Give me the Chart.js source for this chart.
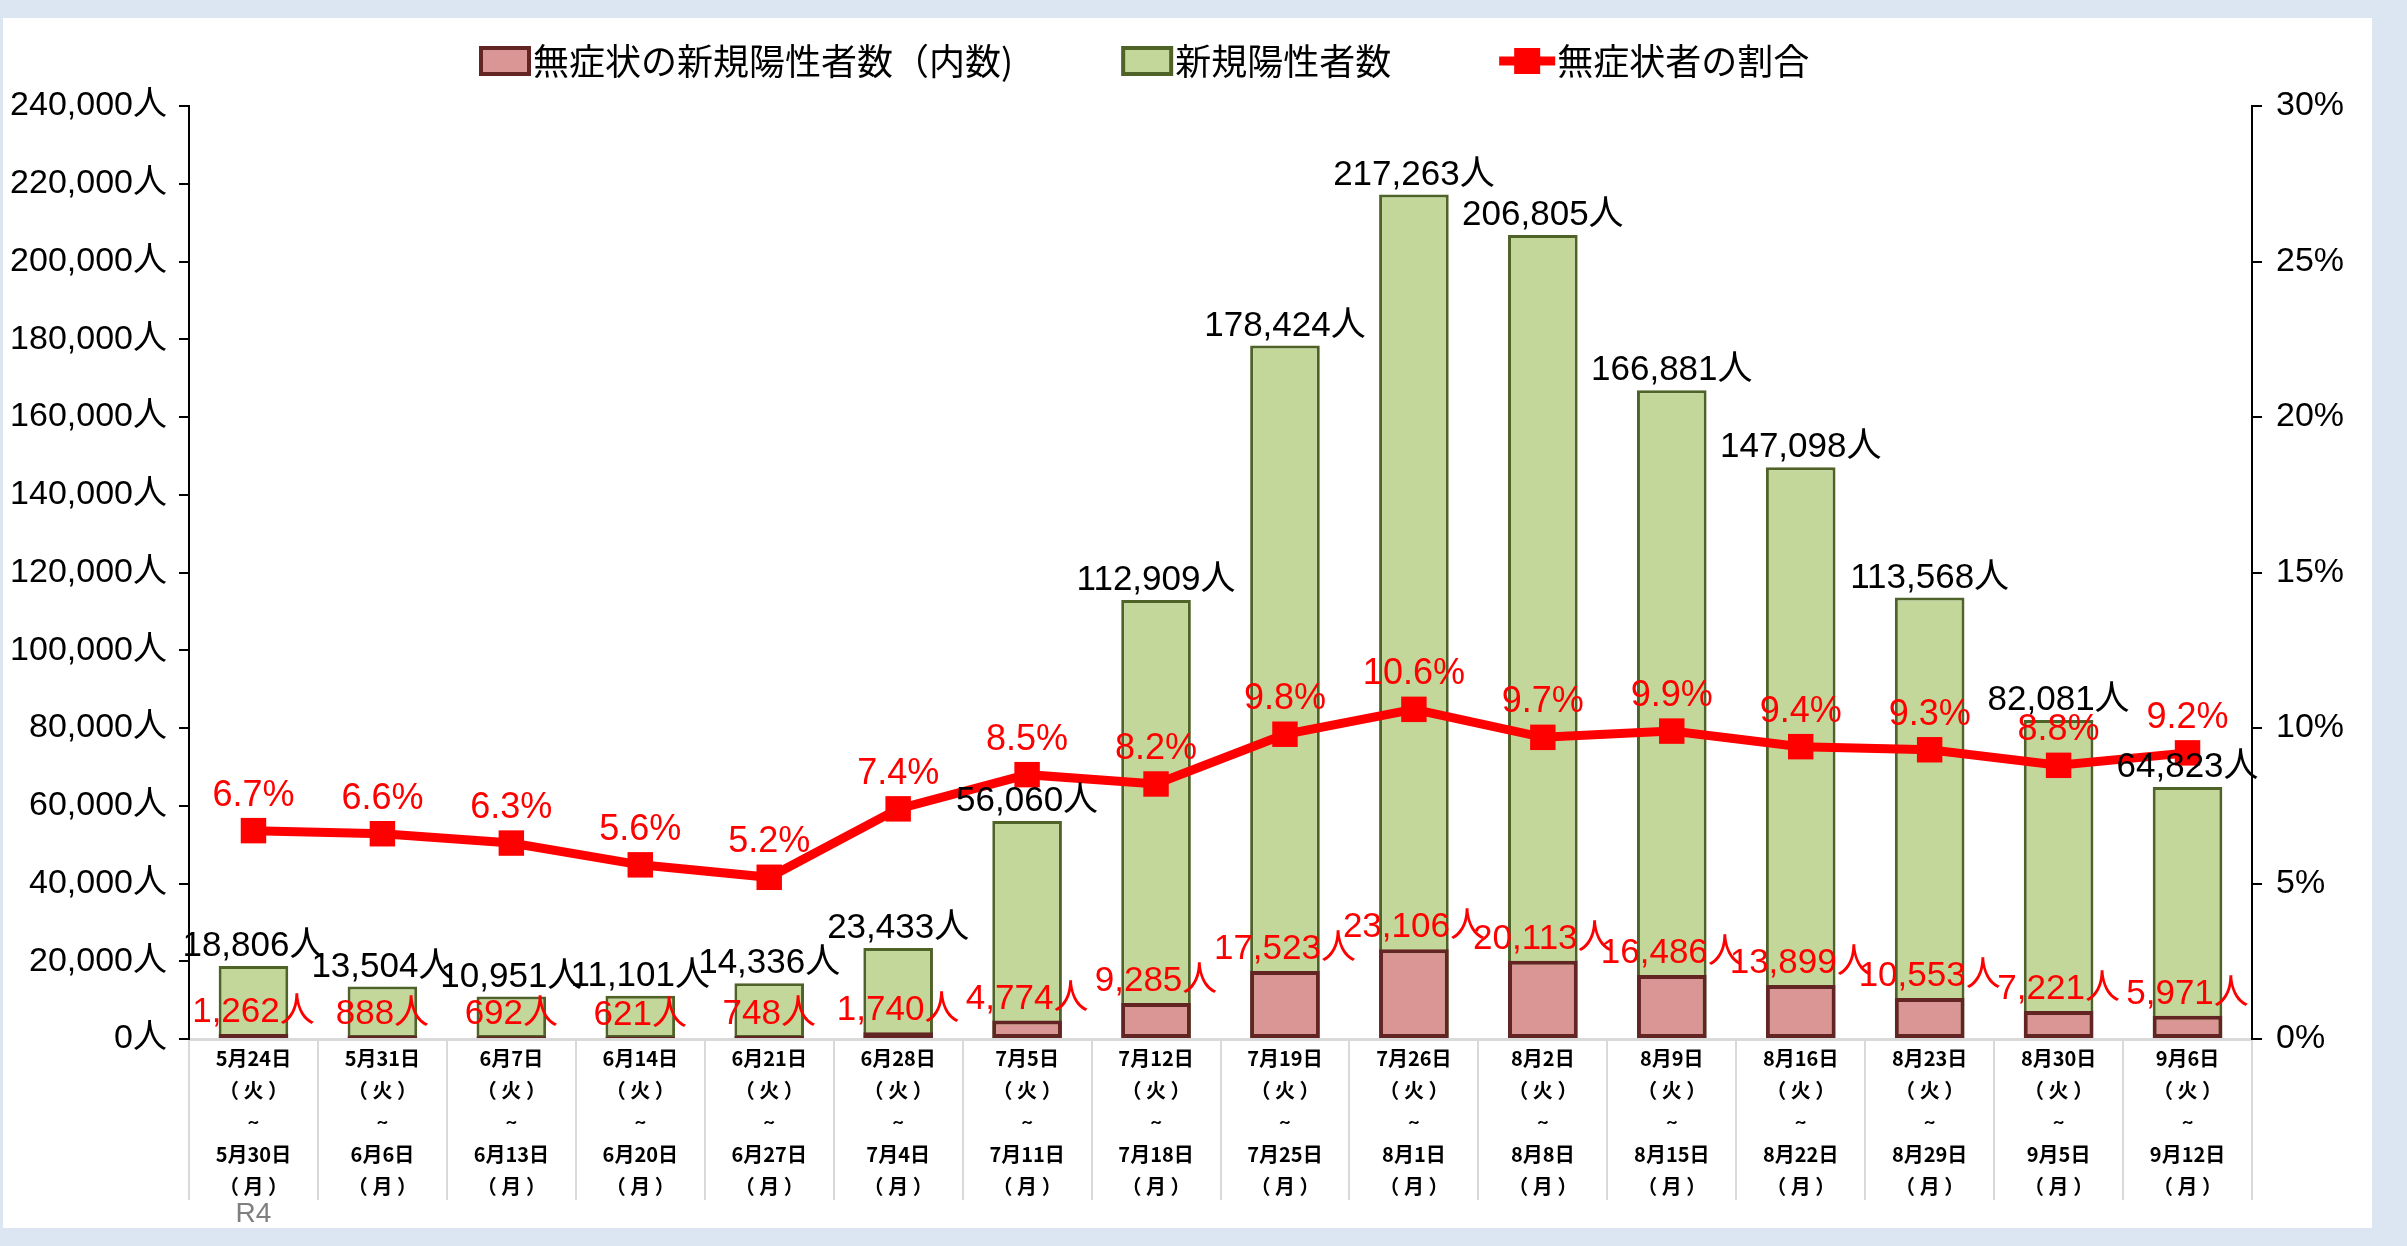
<!DOCTYPE html>
<html lang="ja">
<head>
<meta charset="utf-8">
<title>無症状者の割合</title>
<script src="https://cdn.jsdelivr.net/npm/chart.js@4.4.1/dist/chart.umd.min.js"></script>
<style>
  html, body { margin: 0; padding: 0; background: #dce6f2; overflow: hidden; }
  .panel { position: absolute; left: 3px; top: 18px; width: 2369px; height: 1210px; background: #fff; }
  #chart { position: absolute; left: 0; top: 0; }
</style>
</head>
<body>
<div class="panel"></div>
<canvas id="chart" width="2407" height="1246"></canvas>
<script>
// week ranges (R4)
const weekStarts = ['5月24日', '5月31日', '6月7日', '6月14日', '6月21日', '6月28日', '7月5日', '7月12日',
  '7月19日', '7月26日', '8月2日', '8月9日', '8月16日', '8月23日', '8月30日', '9月6日'];
const weekEnds = ['5月30日', '6月6日', '6月13日', '6月20日', '6月27日', '7月4日', '7月11日', '7月18日',
  '7月25日', '8月1日', '8月8日', '8月15日', '8月22日', '8月29日', '9月5日', '9月12日'];

const newCases = [18806, 13504, 10951, 11101, 14336, 23433, 56060, 112909,
  178424, 217263, 206805, 166881, 147098, 113568, 82081, 64823];
const asymptomatic = [1262, 888, 692, 621, 748, 1740, 4774, 9285,
  17523, 23106, 20113, 16486, 13899, 10553, 7221, 5971];
const asymptomaticRate = [6.7, 6.6, 6.3, 5.6, 5.2, 7.4, 8.5, 8.2,
  9.8, 10.6, 9.7, 9.9, 9.4, 9.3, 8.8, 9.2];

const countAxisMax = 240000;
const countAxisStep = 20000;
const rateAxisMax = 30;
const rateAxisStep = 5;

const labels = weekStarts.map((s, i) => [s, '（ 火 ）', '~', weekEnds[i], '（ 月 ）']);

const numFont = '"Liberation Sans", "Noto Sans CJK JP", sans-serif';
const jpFont = '"Noto Sans CJK JP", sans-serif';

const fmt = v => v.toLocaleString('en-US');

const valueLabels = {
  id: 'valueLabels',
  afterDatasetsDraw(chart) {
    const ctx = chart.ctx;
    const ds = chart.data.datasets;
    ctx.save();
    ctx.textAlign = 'center';
    ctx.textBaseline = 'bottom';

    // total new cases
    ctx.font = '35px ' + numFont;
    chart.getDatasetMeta(1).data.forEach((bar, i) => {
      ctx.fillStyle = '#000';
      ctx.fillText(fmt(ds[1].data[i]) + '人', bar.x, bar.y - 2);
    });
    // asymptomatic counts
    chart.getDatasetMeta(0).data.forEach((bar, i) => {
      ctx.fillStyle = '#ff0000';
      ctx.fillText(fmt(ds[0].data[i]) + '人', bar.x, bar.y - 4);
    });
    // rate
    ctx.font = '36px ' + numFont;
    chart.getDatasetMeta(2).data.forEach((pt, i) => {
      ctx.fillStyle = '#ff0000';
      ctx.fillText(ds[2].data[i].toFixed(1) + '%', pt.x, pt.y - 17);
    });
    ctx.restore();
  },
  afterDraw(chart) {
    const ctx = chart.ctx;
    const ds = chart.data.datasets;
    ctx.save();

    // legend
    ctx.font = '36px ' + jpFont;
    ctx.textBaseline = 'middle';
    ctx.textAlign = 'left';
    const y = 61;
    const gap = 108;
    let x = chart.chartArea.left + 290;
    [0, 1].forEach(k => {
      ctx.fillStyle = ds[k].backgroundColor;
      ctx.strokeStyle = ds[k].borderColor;
      ctx.lineWidth = 4;
      ctx.fillRect(x + 2, y - 13, 48, 26);
      ctx.strokeRect(x + 2, y - 13, 48, 26);
      ctx.fillStyle = '#000';
      ctx.fillText(ds[k].label, x + 54, y);
      x += 54 + ctx.measureText(ds[k].label).width + gap;
    });
    ctx.strokeStyle = ds[2].borderColor;
    ctx.lineWidth = 9;
    ctx.beginPath();
    ctx.moveTo(x, y);
    ctx.lineTo(x + 56, y);
    ctx.stroke();
    ctx.fillStyle = ds[2].pointBackgroundColor;
    ctx.fillRect(x + 15, y - 13, 26, 26);
    ctx.fillStyle = '#000';
    ctx.fillText(ds[2].label, x + 58, y);

    // era note under first week
    ctx.font = '28px "Liberation Sans Narrow", ' + numFont;
    ctx.fillStyle = '#7f7f7f';
    ctx.textAlign = 'center';
    ctx.fillText('R4', chart.scales.x.getPixelForValue(0), 1214);
    ctx.restore();
  }
};

new Chart(document.getElementById('chart'), {
  type: 'bar',
  data: {
    labels: labels,
    datasets: [
      {
        label: '無症状の新規陽性者数（内数)',
        data: asymptomatic,
        backgroundColor: '#d99694',
        borderColor: '#632523',
        borderWidth: 4,
        borderSkipped: false,
        grouped: false,
        order: 1,
        yAxisID: 'y'
      },
      {
        label: '新規陽性者数',
        data: newCases,
        backgroundColor: '#c4d79b',
        borderColor: '#4f6228',
        borderWidth: 3,
        borderSkipped: false,
        grouped: false,
        order: 2,
        yAxisID: 'y'
      },
      {
        type: 'line',
        label: '無症状者の割合',
        data: asymptomaticRate,
        borderColor: '#ff0000',
        backgroundColor: '#ff0000',
        pointBackgroundColor: '#ff0000',
        pointBorderColor: '#ff0000',
        borderWidth: 9,
        pointStyle: 'rect',
        pointRadius: 18,
        pointBorderWidth: 0,
        tension: 0,
        order: 0,
        yAxisID: 'y1'
      }
    ]
  },
  options: {
    responsive: false,
    animation: false,
    layout: { padding: { top: 106, left: 0, right: 0, bottom: 0 } },
    datasets: { bar: { barPercentage: 0.54, categoryPercentage: 1 } },
    plugins: {
      legend: { display: false },
      tooltip: { enabled: false }
    },
    scales: {
      x: {
        afterFit: s => { s.height = 207; },
        grid: {
          drawOnChartArea: false,
          drawTicks: true,
          tickLength: 161,
          color: '#d9d9d9',
          lineWidth: 2
        },
        border: { color: '#d9d9d9', width: 3 },
        ticks: {
          padding: -158,
          color: '#000',
          maxRotation: 0,
          autoSkip: false,
          font: { family: jpFont, size: 20, weight: 'bold', lineHeight: 1.6 }
        }
      },
      y: {
        position: 'left',
        min: 0,
        max: countAxisMax,
        afterFit: s => { s.width = 189; },
        grid: { drawOnChartArea: false, drawTicks: true, tickLength: 10, color: '#000', lineWidth: 2 },
        border: { color: '#000', width: 2 },
        ticks: {
          stepSize: countAxisStep,
          padding: 12,
          color: '#000',
          font: { family: numFont, size: 34 },
          callback: v => fmt(v) + '人'
        }
      },
      y1: {
        position: 'right',
        min: 0,
        max: rateAxisMax,
        afterFit: s => { s.width = 155; },
        grid: { drawOnChartArea: false, drawTicks: true, tickLength: 10, color: '#000', lineWidth: 2 },
        border: { color: '#000', width: 2 },
        ticks: {
          stepSize: rateAxisStep,
          padding: 14,
          color: '#000',
          font: { family: numFont, size: 34 },
          callback: v => v + '%'
        }
      }
    }
  },
  plugins: [valueLabels]
});
</script>
</body>
</html>
